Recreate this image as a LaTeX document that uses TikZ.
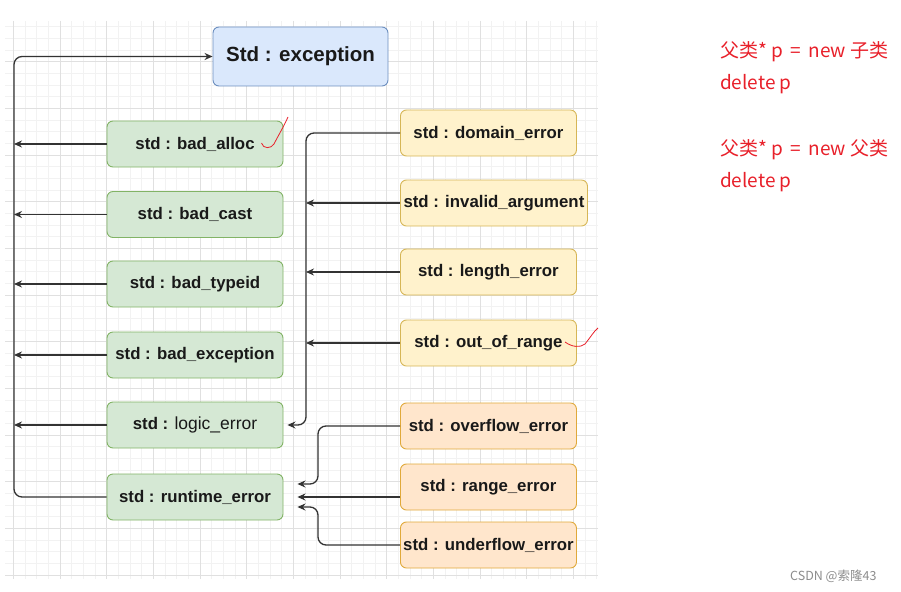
\documentclass[tikz,border=0pt]{standalone}
\usepackage{fontspec}
\setmainfont{Liberation Sans}
\newfontfamily\cjk{Noto Sans CJK SC}
\usetikzlibrary{arrows.meta}

\definecolor{LanTian}{HTML}{DAE8FC}
\definecolor{LanBian}{HTML}{6C8EBF}
\definecolor{LvTian}{HTML}{D5E8D4}
\definecolor{LvBian}{HTML}{82B366}
\definecolor{HuangTian}{HTML}{FFF2CC}
\definecolor{HuangBian}{HTML}{D6B656}
\definecolor{ChengTian}{HTML}{FFE6CC}
\definecolor{ChengBian}{HTML}{E0A93A}
\definecolor{XianSe}{HTML}{333333}
\definecolor{HongSe}{HTML}{E8202A}

\tikzset{
  Kuang/.style={draw, rounded corners=6pt, line width=0.9pt, minimum height=46pt,
    minimum width=176pt, inner sep=1pt, text=black!90,
    font=\bfseries\fontsize{16.8}{19}\selectfont},
  LvKuang/.style={Kuang, fill=LvTian, draw=LvBian},
  HuangKuang/.style={Kuang, fill=HuangTian, draw=HuangBian, anchor=west},
  ChengKuang/.style={Kuang, fill=ChengTian, draw=ChengBian, anchor=west},
  Xian/.style={draw=XianSe, line width=1.3pt, rounded corners=8pt,
    -{Stealth[length=8pt,width=7pt]}},
  HongZi/.style={anchor=west, text=HongSe, inner sep=0pt,
    font=\cjk\fontsize{19}{22}\selectfont},
  XiGe/.style={draw=black!5, line width=0.6pt},
  CuGe/.style={draw=black!12, line width=0.8pt}
}

\begin{document}
\begin{tikzpicture}[x=1pt,y=-1pt]
\useasboundingbox (0,0) rectangle (901,591);

%背景网格
\begin{scope}
\clip (5,21) rectangle (598,579);
\foreach \i in {0,...,51}
  \draw[XiGe] (1.67+11.667*\i,21) -- (1.67+11.667*\i,579);
\foreach \j in {0,...,49}
  \draw[XiGe] (5,3.33+11.667*\j) -- (598,3.33+11.667*\j);
\foreach \i in {0,...,12}
  \draw[CuGe] (13.33+46.67*\i,21) -- (13.33+46.67*\i,579);
\foreach \j in {0,...,12}
  \draw[CuGe] (5,15+46.67*\j) -- (598,15+46.67*\j);
\end{scope}

%三条竖线的位置
\coordinate (Zuo) at (14,300);
\coordinate (Zhong) at (306,300);
\coordinate (You) at (318,300);

%基类
\node[Kuang, fill=LanTian, draw=LanBian, minimum width=175pt, minimum height=59pt,
  font=\bfseries\fontsize{20.5}{24}\selectfont] (Exception) at (300.5,56.5) {Std : exception};

%左边一列
\foreach \n/\y/\t in
{ BadAlloc/144/{std : bad\_alloc},
  BadCast/214.5/{std : bad\_cast},
  BadTypeid/284/{std : bad\_typeid},
  BadException/355/{std : bad\_exception},
  LogicError/425/{std : {\mdseries\fontsize{17.5}{20}\selectfont logic\_error}},
  RuntimeError/497/{std : runtime\_error}
}
{
  \node[LvKuang] (\n) at (195,\y) {\t};
};

%右边两列
\foreach \n/\y/\t in
{ DomainError/133/{std : domain\_error},
  LengthError/272/{std : length\_error},
  OutOfRange/343/{std : out\_of\_range}
}
{
  \node[HuangKuang] (\n) at (400,\y) {\t};
};
\node[HuangKuang, minimum width=187pt] (InvalidArgument) at (400,203) {std : invalid\_argument};

\foreach \n/\y/\t in
{ OverflowError/426/{std : overflow\_error},
  RangeError/487/{std : range\_error},
  UnderflowError/545/{std : underflow\_error}
}
{
  \node[ChengKuang] (\n) at (400,\y) {\t};
};

%连线
\draw[Xian] (RuntimeError.west) -- (RuntimeError.west -| Zuo) |- (Exception.west);
\foreach \n in {BadAlloc,BadCast,BadTypeid,BadException,LogicError}
  \draw[Xian] (\n.west) -- (\n.west -| Zuo);

\draw[Xian] (DomainError.west) -- (DomainError.west -| Zhong) |- ([xshift=4pt]LogicError.east);
\foreach \n in {InvalidArgument,LengthError,OutOfRange}
  \draw[Xian] (\n.west) -- (\n.west -| Zhong);

\draw[Xian] (OverflowError.west) -- (OverflowError.west -| You)
  |- ([xshift=14pt,yshift=13pt]RuntimeError.east);
\draw[Xian] (RangeError.west |- RuntimeError.east) -- ([xshift=14pt]RuntimeError.east);
\draw[Xian] (UnderflowError.west) -- (UnderflowError.west -| You)
  |- ([xshift=14pt,yshift=-10pt]RuntimeError.east);

%红笔勾
\draw[HongSe, line width=0.8pt] (261.5,143) .. controls (263,149) and (271,149) .. (274,144)
  .. controls (278,136) and (283,128) .. (288,117);
\draw[HongSe, line width=0.8pt] (565,342) .. controls (572,347) and (580,348) .. (585,344)
  .. controls (590,338) and (594,331) .. (598,328);

%右边的说明
\node[HongZi] (Hang1) at (720,52) {父类* p \,=\, new 子类};
\node[HongZi] (Hang2) at (720,84) {delete p};
\node[HongZi] (Hang3) at (720,150) {父类* p \,=\, new 父类};
\node[HongZi] (Hang4) at (720,182) {delete p};

\node[anchor=west, inner sep=0pt, text=black!45, font=\cjk\fontsize{12.5}{15}\selectfont]
  (ShuiYin) at (790,576) {CSDN @索隆43};
\end{tikzpicture}
\end{document}
